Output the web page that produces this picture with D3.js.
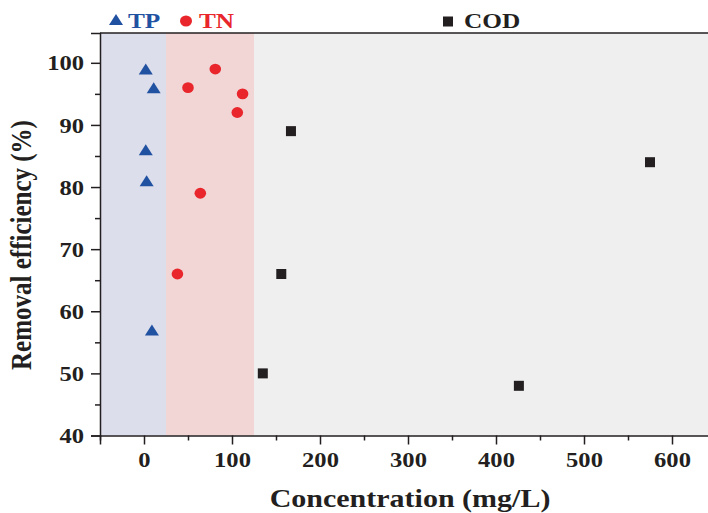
<!DOCTYPE html>
<html><head><meta charset="utf-8">
<script src="https://cdn.jsdelivr.net/npm/d3@7"></script>
<style>body{margin:0;background:#fff}svg{display:block}</style>
</head><body>
<svg id="c" width="708" height="513"></svg>
<script>
const tpX = [2, 11, 2, 3, 9];
const tpY = [99, 96, 86, 81, 57];
const tnX = [81, 50, 112, 106, 64, 38];
const tnY = [99, 96, 95, 92, 79, 66];
const codX = [167, 156, 135, 426, 575];
const codY = [89, 66, 50, 48, 84];
const xTicks = [0, 100, 200, 300, 400, 500, 600];
const yTicks = [40, 50, 60, 70, 80, 90, 100];
const bands = [{from: -50, to: 25, color: "#dcdeeb"}, {from: 25, to: 125, color: "#f2d6d6"}, {from: 125, to: 650, color: "#efefef"}];

const svg = d3.select("#c");
const font = "'Liberation Serif','Times New Roman',serif";
const x = d3.scaleLinear().domain([-50, 650]).range([100, 716]);
const y = d3.scaleLinear().domain([40, 104.8]).range([435.5, 33]);
const ink = "#231f20";
const blue = "#2151a1", red = "#e8262b";
const SX = 1.17;

svg.selectAll("rect.band").data(bands).enter().append("rect")
  .attr("x", d => x(d.from)).attr("width", d => x(d.to) - x(d.from))
  .attr("y", y(104.8)).attr("height", y(40) - y(104.8)).attr("fill", d => d.color);

svg.append("line").attr("x1", 100).attr("x2", 716).attr("y1", 33).attr("y2", 33)
  .attr("stroke", ink).attr("stroke-width", 1.5);

// x axis
const xMinor = d3.range(-50, 651, 50).filter(v => v % 100 !== 0);
const xa = svg.append("g").attr("transform", `translate(0,${y(40)})`);
xa.call(d3.axisBottom(x).tickValues(xTicks).tickSize(9).tickPadding(8).tickFormat(d3.format("d")));
const xm = xa.append("g").call(d3.axisBottom(x).tickValues(xMinor).tickSize(5).tickFormat(""));
xm.select(".domain").remove();
xa.selectAll(".domain").attr("stroke", ink).attr("stroke-width", 1.5);
xa.selectAll("g.tick line").attr("stroke", ink).attr("stroke-width", 1.5);
xa.selectAll("text").attr("font-family", font).attr("font-weight", "bold").attr("font-size", 21).attr("fill", ink)
  .attr("transform", `scale(${SX},1)`);

// y axis
const yMinor = d3.range(45, 101, 10);
const ya = svg.append("g").attr("transform", `translate(${x(-50)},0)`);
ya.call(d3.axisLeft(y).tickValues(yTicks).tickSize(9).tickPadding(7).tickFormat(d3.format("d")));
const ym = ya.append("g").call(d3.axisLeft(y).tickValues(yMinor).tickSize(5).tickFormat(""));
ym.select(".domain").remove();
ya.selectAll(".domain").attr("stroke", ink).attr("stroke-width", 1.5);
ya.selectAll("g.tick line").attr("stroke", ink).attr("stroke-width", 1.5);
ya.selectAll("text").attr("font-family", font).attr("font-weight", "bold").attr("font-size", 21).attr("fill", ink)
  .attr("x", -16 / SX).attr("dy", "0.34em").attr("transform", `scale(${SX},1)`);

// custom squat triangle
const triType = {draw(ctx, size) { const w = 14, h = 11; ctx.moveTo(0, -h / 2); ctx.lineTo(w / 2, h / 2); ctx.lineTo(-w / 2, h / 2); ctx.closePath(); }};
svg.selectAll("path.tp").data(tpX.map((v, i) => [v, tpY[i]])).enter().append("path")
  .attr("d", d3.symbol().type(triType)).attr("transform", d => `translate(${x(d[0])},${y(d[1])})`).attr("fill", blue);
svg.selectAll("ellipse.tn").data(tnX.map((v, i) => [v, tnY[i]])).enter().append("ellipse")
  .attr("cx", d => x(d[0])).attr("cy", d => y(d[1])).attr("rx", 5.8).attr("ry", 5.4).attr("fill", red);
svg.selectAll("rect.cod").data(codX.map((v, i) => [v, codY[i]])).enter().append("rect")
  .attr("x", d => x(d[0]) - 5).attr("y", d => y(d[1]) - 5).attr("width", 10).attr("height", 10).attr("fill", ink);

// legend
svg.append("path").attr("d", d3.symbol().type(triType)).attr("transform", "translate(116,19.5)").attr("fill", blue);
svg.append("text").attr("transform", `translate(128,28) scale(1.15,1)`).text("TP").attr("font-family", font).attr("font-weight", "bold").attr("font-size", 22).attr("fill", blue);
svg.append("ellipse").attr("cx", 186).attr("cy", 21).attr("rx", 6).attr("ry", 5.6).attr("fill", red);
svg.append("text").attr("transform", `translate(199,28) scale(1.15,1)`).text("TN").attr("font-family", font).attr("font-weight", "bold").attr("font-size", 22).attr("fill", red);
svg.append("rect").attr("x", 443).attr("y", 16.5).attr("width", 10).attr("height", 10).attr("fill", ink);
svg.append("text").attr("transform", `translate(464,28) scale(1.15,1)`).text("COD").attr("font-family", font).attr("font-weight", "bold").attr("font-size", 22).attr("fill", ink);

// titles
svg.append("text").attr("transform", "translate(410,507) scale(1.2,1)").attr("text-anchor", "middle").text("Concentration (mg/L)")
  .attr("font-family", font).attr("font-weight", "bold").attr("font-size", 25).attr("fill", ink);
svg.append("text").attr("transform", "translate(31,245) scale(1.2,1) rotate(-90)").attr("text-anchor", "middle").text("Removal efficiency (%)")
  .attr("font-family", font).attr("font-weight", "bold").attr("font-size", 25).attr("fill", ink);
</script>
</body></html>
